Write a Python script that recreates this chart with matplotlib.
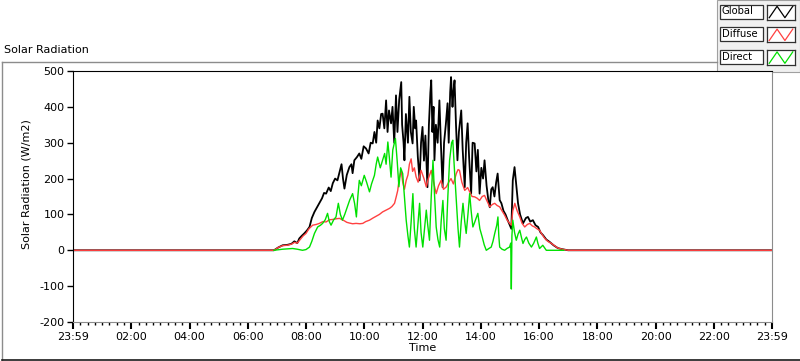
import matplotlib.pyplot as plt
from matplotlib.patches import Rectangle
from matplotlib.lines import Line2D

plt.rcParams['font.family'] = ['DejaVu Sans']
plt.rcParams['axes.unicode_minus'] = False  # labview shows a plain hyphen

# ==========================================
# data (hours of day, W/m2)
# ==========================================
global_t = [0, 6.9, 7.05, 7.2, 7.35, 7.5, 7.6, 7.7, 7.77, 7.85, 7.94, 8.03, 8.12, 8.2, 8.29, 8.38,
            8.46, 8.55, 8.62, 8.69, 8.78, 8.85, 8.92, 9.0, 9.08, 9.15, 9.22, 9.27, 9.32, 9.4, 9.49,
            9.56, 9.6, 9.66, 9.75, 9.83, 9.9, 9.98, 10.06, 10.15, 10.22, 10.29, 10.35, 10.41, 10.46,
            10.52, 10.58, 10.63, 10.69, 10.75, 10.8, 10.85, 10.92, 10.97, 11.03, 11.09, 11.14, 11.2,
            11.27, 11.3, 11.35, 11.38, 11.43, 11.5, 11.55, 11.6, 11.66, 11.7, 11.75, 11.78, 11.84,
            11.9, 11.95, 12.0, 12.05, 12.1, 12.17, 12.22, 12.27, 12.3, 12.34, 12.38, 12.41, 12.46,
            12.52, 12.58, 12.63, 12.69, 12.74, 12.8, 12.86, 12.9, 12.95, 12.98, 13.03, 13.06, 13.1,
            13.15, 13.2, 13.25, 13.33, 13.38, 13.45, 13.5, 13.55, 13.6, 13.67, 13.72, 13.79, 13.85,
            13.9, 13.96, 14.02, 14.08, 14.13, 14.2, 14.26, 14.31, 14.36, 14.41, 14.47, 14.53, 14.58,
            14.65, 14.71, 14.78, 14.85, 14.92, 15.0, 15.05, 15.1, 15.16, 15.22, 15.28, 15.35, 15.45,
            15.55, 15.62, 15.7, 15.79, 15.88, 15.97, 16.05, 16.14, 16.25, 16.37, 16.5, 16.65, 16.8,
            17.0, 24]
global_v = [0, 0, 8, 14, 15, 18, 25, 20, 33, 40, 47, 55, 65, 90, 107, 120,
            131, 145, 160, 158, 175, 165, 187, 200, 195, 218, 240, 200, 172, 210, 232,
            240, 215, 251, 260, 270, 255, 290, 284, 270, 300, 298, 330, 300, 362,
            340, 380, 381, 340, 418, 330, 390, 354, 400, 300, 432, 330, 420,
            469, 350, 300, 251, 380, 300, 428, 330, 298, 400, 340, 362, 260,
            195, 300, 344, 250, 320, 176, 350, 440, 474, 330, 400, 251, 350,
            300, 418, 300, 176, 300, 350, 410, 300, 440, 483, 400, 440, 474,
            350, 251, 330, 390, 280, 176, 300, 354, 260, 158, 300, 298, 220,
            280, 158, 230, 200, 251, 180, 140, 120, 170, 176, 150, 190, 214,
            140, 131, 110, 100, 85, 70, 60, 195, 232, 180, 131, 100, 75,
            90, 93, 80, 84, 70, 65, 50, 42, 30, 23, 14, 6, 3,
            0, 0]

diffuse_t = [0, 6.9, 7.05, 7.2, 7.35, 7.5, 7.6, 7.7, 7.8, 7.9, 8.0, 8.1, 8.23, 8.35, 8.46, 8.58,
             8.69, 8.8, 8.92, 9.05, 9.15, 9.25, 9.32, 9.4, 9.49, 9.6, 9.72, 9.85, 9.95, 10.05, 10.18,
             10.3, 10.41, 10.52, 10.63, 10.75, 10.87, 10.95, 11.04, 11.1, 11.15, 11.2, 11.27, 11.32,
             11.38, 11.44, 11.5, 11.55, 11.61, 11.66, 11.72, 11.78, 11.85, 11.95, 12.05, 12.13, 12.2,
             12.3, 12.38, 12.47, 12.55, 12.64, 12.72, 12.82, 12.9, 12.98, 13.06, 13.16, 13.22, 13.27,
             13.35, 13.45, 13.55, 13.62, 13.7, 13.79, 13.88, 13.96, 14.05, 14.13, 14.2, 14.31, 14.4,
             14.48, 14.56, 14.65, 14.73, 14.82, 14.9, 14.99, 15.05, 15.1, 15.17, 15.25, 15.34, 15.42,
             15.51, 15.6, 15.68, 15.77, 15.85, 15.93, 16.02, 16.1, 16.2, 16.3, 16.43, 16.55, 16.65,
             16.8, 17.0, 24]
diffuse_v = [0, 0, 8, 13, 14, 17, 22, 20, 30, 40, 47, 60, 70, 72, 75, 80,
             79, 85, 86, 88, 89, 85, 82, 78, 76, 74, 75, 74, 75, 80, 84,
             90, 95, 100, 107, 112, 117, 122, 131, 150, 167, 200, 223, 190,
             170, 195, 210, 240, 255, 220, 230, 205, 190, 223, 200, 177, 200,
             223, 190, 158, 180, 195, 170, 177, 190, 200, 185, 214, 225, 223,
             190, 167, 175, 163, 150, 149, 145, 139, 150, 153, 140, 121, 128,
             131, 125, 121, 110, 98, 85, 75, 70, 110, 131, 110, 93, 75,
             65, 72, 75, 68, 65, 60, 56, 45, 33, 25, 19, 12, 6,
             3, 0, 0]

# direct is only logged in daylight
direct_t = [6.9, 7.2, 7.54, 7.7, 7.88, 8.0, 8.12, 8.2, 8.29, 8.4, 8.5, 8.57, 8.66, 8.74, 8.8, 8.86,
            8.95, 9.03, 9.11, 9.18, 9.25, 9.33, 9.42, 9.5, 9.6, 9.67, 9.73, 9.78, 9.83, 9.9, 10.0,
            10.08, 10.18, 10.25, 10.35, 10.41, 10.46, 10.55, 10.63, 10.7, 10.75, 10.81, 10.86, 10.92,
            10.98, 11.07, 11.13, 11.19, 11.25, 11.32, 11.38, 11.44, 11.5, 11.55, 11.61, 11.67, 11.72,
            11.78, 11.84, 11.9, 11.95, 12.01, 12.07, 12.13, 12.18, 12.24, 12.3, 12.36, 12.41, 12.47,
            12.53, 12.59, 12.64, 12.7, 12.75, 12.81, 12.87, 12.93, 13.0, 13.04, 13.1, 13.16, 13.22,
            13.27, 13.33, 13.39, 13.45, 13.5, 13.56, 13.62, 13.67, 13.73, 13.8, 13.9, 13.97, 14.05,
            14.12, 14.19, 14.28, 14.36, 14.42, 14.48, 14.55, 14.59, 14.62, 14.65, 14.73, 14.82, 14.9,
            14.99, 15.03, 15.05, 15.07, 15.1, 15.16, 15.22, 15.28, 15.34, 15.4, 15.45, 15.51, 15.57,
            15.65, 15.74, 15.82, 15.91, 15.96, 16.02, 16.08, 16.13, 16.25, 16.85]
direct_v = [0, 3, 5, 3, 0, 2, 9, 25, 47, 65, 70, 75, 85, 103, 80, 70,
            85, 93, 131, 100, 84, 100, 121, 140, 158, 130, 93, 150, 195, 180, 209,
            190, 163, 185, 209, 240, 260, 230, 251, 270, 240, 302, 260, 204,
            280, 312, 250, 177, 230, 214, 150, 84, 40, 9, 80, 158, 60,
            9, 70, 131, 50, 9, 60, 112, 70, 28, 150, 251, 160, 65,
            30, 9, 80, 139, 60, 28, 150, 251, 300, 307, 220, 139, 60,
            9, 80, 131, 80, 47, 100, 158, 110, 65, 80, 103, 60, 37,
            15, 0, 5, 9, 25, 47, 70, 93, 40, 9, 3, 0, 5,
            9, 20, -108, 40, 84, 50, 28, 45, 56, 35, 19, 30, 37,
            20, 9, 20, 37, 20, 5, 10, 14, 0, 0]

series_names = ['Global', 'Diffuse', 'Direct']
series_colors = ['#000000', '#ff4040', '#00e000']

x_ticks = list(range(0, 25, 2))
x_labels = ['23:59'] + [f'{h:02d}:00' for h in range(2, 24, 2)] + ['23:59']
y_ticks = list(range(-200, 501, 100))

W, H = 800, 361
FS = 8


def fx(x):
    return x / W


def fy(y):
    return 1 - y / H


fig = plt.figure(figsize=(8, 3.61), dpi=100)

# panel frame around the graph
fig.add_artist(Line2D([fx(2), fx(2)], [fy(62), fy(360)], color='#8c8c8c', lw=1))
fig.add_artist(Line2D([fx(2), fx(717)], [fy(62), fy(62)], color='#8c8c8c', lw=1))
fig.add_artist(Line2D([fx(2), fx(800)], [fy(360), fy(360)], color='#1a1a1a', lw=1.2))
fig.text(fx(4), fy(50), 'Solar Radiation', fontsize=FS, va='center', ha='left')

ax = fig.add_axes([fx(73), fy(322), (772 - 73) / W, (322 - 71) / H])
ax.plot(global_t, global_v, color=series_colors[0], lw=1.3)
ax.plot(diffuse_t, diffuse_v, color=series_colors[1], lw=1)
ax.plot(direct_t, direct_v, color=series_colors[2], lw=1)

ax.set_xlim(0, 24)
ax.set_ylim(-200, 500)
ax.set_xticks(x_ticks)
ax.set_xticklabels(x_labels)
ax.set_xticks([i * 0.25 for i in range(97)], minor=True)
ax.set_yticks(y_ticks)
ax.tick_params(axis='both', labelsize=FS, direction='out', pad=2)
ax.tick_params(axis='x', which='major', length=5, width=1.5)
ax.tick_params(axis='x', which='minor', length=2.5, width=1)
ax.tick_params(axis='y', which='major', length=4, width=1)
ax.tick_params(axis='y', which='minor', length=0)
ax.set_ylabel('Solar Radiation (W/m2)', fontsize=FS)
ax.yaxis.set_label_coords(-0.059, 0.55)
ax.set_xlabel('Time', fontsize=FS, labelpad=1)
for side in ['left', 'top']:
    ax.spines[side].set_color('black')
for side in ['right', 'bottom']:
    ax.spines[side].set_color('#8c8c8c')

# legend panel, top right
fig.add_artist(Rectangle((fx(717), fy(72)), (W - 717) / W, 72 / H, transform=fig.transFigure,
                         facecolor='#f0f0f0', edgecolor='#a0a0a0', lw=0.8, zorder=-1))
for i, (name, col) in enumerate(zip(series_names, series_colors)):
    top = 4.5 + i * 22.8
    fig.add_artist(Rectangle((fx(720), fy(top + 14)), 43 / W, 14 / H, transform=fig.transFigure,
                             facecolor='white', edgecolor='#303030', lw=0.9, zorder=1))
    fig.text(fx(722), fy(top + 7), name, fontsize=7.2, va='center', ha='left', zorder=3)
    icon = fig.add_axes([fx(767), fy(top + 15), 28 / W, 15 / H])
    icon.set_zorder(5)
    icon.plot([0.08, 0.36, 0.64, 0.92], [0.12, 0.88, 0.12, 0.88], color=col, lw=0.9)
    icon.set_xlim(0, 1)
    icon.set_ylim(0, 1)
    icon.set_xticks([])
    icon.set_yticks([])
    for s in icon.spines.values():
        s.set_color('#303030')
        s.set_linewidth(0.9)

fig.savefig('out.png', dpi=100)
